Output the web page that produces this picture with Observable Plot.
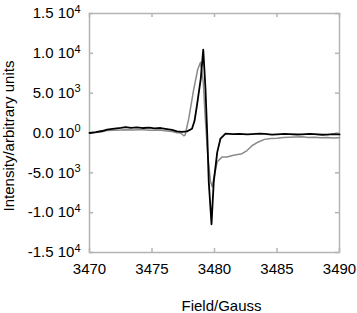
<!DOCTYPE html>
<html>
<head>
<meta charset="utf-8">
<script src="https://cdn.jsdelivr.net/npm/d3@7"></script>
<script src="https://cdn.jsdelivr.net/npm/@observablehq/plot@0.6"></script>
<style>
  html, body { margin: 0; padding: 0; background: #fff; }
  #chart { width: 357px; height: 313px; }
</style>
</head>
<body>
<div id="chart"></div>
<script>
const blackField = [3470.0,3470.5,3471.0,3471.4,3472.0,3472.5,3472.9,3473.3,3473.8,3474.3,3474.8,3475.2,3475.7,3476.2,3476.6,3477.0,3477.4,3477.8,3478.2,3478.4,3478.6,3478.9,3479.1,3479.28,3479.42,3479.54,3479.76,3479.94,3480.22,3480.48,3480.88,3481.5,3482,3482.6,3483,3483.6,3484,3484.6,3485,3485.6,3486,3486.6,3487,3487.6,3488,3488.6,3489,3489.5,3490];
const blackValue = [0,100,250,410,550,650,750,650,700,625,680,580,625,500,380,210,150,200,540,1500,3500,6800,10460,5500,-250,-6100,-11460,-6100,-2400,-700,-90,-150,-100,-180,-150,-90,-120,-200,-170,-110,-130,-190,-180,-120,-150,-220,-200,-150,-170];

const grayField = [3470.0,3470.5,3471.0,3471.4,3472.0,3472.5,3472.9,3473.5,3474.0,3474.3,3474.8,3475.3,3475.7,3476.2,3476.6,3477.0,3477.3,3477.54,3477.65,3477.94,3478.34,3478.66,3478.88,3479.10,3479.28,3479.46,3479.68,3479.82,3480.0,3480.22,3480.62,3481.0,3481.52,3482.2,3482.6,3483.0,3483.5,3484.0,3484.5,3485.0,3485.5,3486.0,3486.5,3487.0,3487.5,3488.0,3488.5,3489.0,3489.5,3490];
const grayValue = [0,50,150,300,350,380,410,380,420,400,360,330,330,250,180,40,0,-350,-250,1800,5500,8000,8875,6400,1400,-2750,-6100,-6750,-5250,-3600,-3000,-3000,-2800,-2600,-2200,-1600,-1125,-800,-700,-650,-550,-520,-500,-480,-550,-520,-600,-580,-620,-600];

const xTicks = [3470,3475,3480,3485,3490];
const yTicks = [-15000,-10000,-5000,0,5000,10000,15000];
const yTickMantissa = ["-1.5","-1.0","-5.0","0.0","5.0","1.0","1.5"];
const yTickExponent = ["4","4","3","0","3","4","4"];
const xLabel = "Field/Gauss";
const yLabel = "Intensity/arbitrary units";

const blackData = blackField.map((f, i) => ({field: f, value: blackValue[i]}));
const grayData = grayField.map((f, i) => ({field: f, value: grayValue[i]}));
const yLabelMap = new Map(yTicks.map((t, i) => [t, yTickMantissa[i] + " 10^" + yTickExponent[i]]));

const W = 357, H = 313, mL = 89, mR = 18, mT = 13, mB = 61;
const plotW = W - mL - mR, plotH = H - mT - mB;
const tickLen = 4;
const frameColor = "#b4b4b4";

const chart = Plot.plot({
  width: W,
  height: H,
  marginLeft: mL,
  marginRight: mR,
  marginTop: mT,
  marginBottom: mB,
  style: {fontFamily: "'Liberation Sans', Arial, sans-serif", fontSize: "15px", color: "#000", background: "#fff"},
  x: {domain: [3470, 3490]},
  y: {domain: [-15000, 15000]},
  marks: [
    Plot.frame({stroke: frameColor, strokeWidth: 1.5}),
    // inward ticks on all four sides
    Plot.tickX(xTicks, {x: d => d, insetTop: plotH - tickLen, stroke: frameColor, strokeWidth: 1.5}),
    Plot.tickX(xTicks, {x: d => d, insetBottom: plotH - tickLen, stroke: frameColor, strokeWidth: 1.5}),
    Plot.tickY(yTicks, {y: d => d, insetRight: plotW - tickLen, stroke: frameColor, strokeWidth: 1.5}),
    Plot.tickY(yTicks, {y: d => d, insetLeft: plotW - tickLen, stroke: frameColor, strokeWidth: 1.5}),
    Plot.axisX(xTicks, {anchor: "bottom", tickSize: 0, tickPadding: 11, tickFormat: d => String(d), label: null, fill: "#000"}),
    Plot.axisY(yTicks, {anchor: "left", tickSize: 0, tickPadding: 9, tickFormat: d => yLabelMap.get(d), label: null, fill: "#000"}),
    Plot.line(grayData, {x: "field", y: "value", stroke: "#8a8a8a", strokeWidth: 1.5}),
    Plot.line(blackData, {x: "field", y: "value", stroke: "#000", strokeWidth: 1.8}),
    Plot.text([xLabel], {frameAnchor: "bottom", dx: 7, dy: 48, lineAnchor: "top", text: d => d, fill: "#000", fontSize: 15}),
    Plot.text([yLabel], {frameAnchor: "left", dx: -86, dy: 3, rotate: -90, textAnchor: "middle", lineAnchor: "top", text: d => d, fill: "#000", fontSize: 15})
  ]
});

// superscript exponents in y tick labels
d3.select(chart).selectAll("g[aria-label='y-axis tick label'] text").each(function() {
  const t = d3.select(this);
  const s = t.text();
  const parts = s.split("^");
  if (parts.length === 2) {
    t.text(parts[0]);
    t.append("tspan").attr("dy", "-5.5").attr("font-size", "11px").text(parts[1]);
  }
});

document.getElementById("chart").appendChild(chart);
</script>
</body>
</html>
